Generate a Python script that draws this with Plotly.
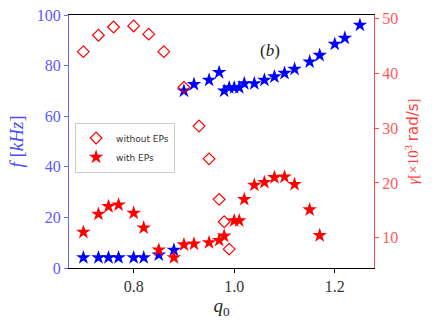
import plotly.graph_objects as go

# f [kHz] with EPs (blue stars, left axis)
q_f = [0.70, 0.73, 0.75, 0.77, 0.80, 0.82, 0.85, 0.88,
       0.90, 0.92, 0.95, 0.97, 0.98, 0.99, 1.00, 1.01, 1.02, 1.04,
       1.06, 1.08, 1.10, 1.12, 1.15, 1.17, 1.20, 1.22, 1.25]
f_eps = [4.1, 4.1, 4.1, 4.1, 4.1, 4.1, 5.2, 7.1,
         70.0, 72.6, 74.3, 77.3, 70.0, 71.3, 71.3, 71.3, 72.9, 72.9,
         74.3, 75.6, 77.0, 78.6, 81.5, 84.1, 88.5, 90.9, 96.0]

# gamma [x10^3 rad/s] with EPs (red stars, right axis)
q_g = [0.70, 0.73, 0.75, 0.77, 0.80, 0.82, 0.85, 0.88, 0.90, 0.92,
       0.95, 0.97, 0.98, 1.00, 1.01, 1.02, 1.04, 1.06, 1.08, 1.10,
       1.12, 1.15, 1.17]
g_eps = [11.0, 14.3, 15.7, 16.0, 14.5, 11.8, 7.75, 6.35, 8.7, 8.85,
         9.1, 9.5, 10.3, 13.1, 13.1, 17.0, 19.6, 20.1, 21.0, 21.1,
         19.75, 15.1, 10.4]

# gamma without EPs (open diamonds, right axis)
q_noep = [0.70, 0.73, 0.76, 0.80, 0.83, 0.86, 0.90, 0.93, 0.95, 0.97, 0.98, 0.99]
g_noep = [44.0, 47.0, 48.5, 48.7, 47.2, 44.0, 37.5, 30.4, 24.4, 17.0, 12.9, 7.9]

blue = "#0000ff"
red = "#ff0000"
serif = "Liberation Serif, DejaVu Serif, serif"

fig = go.Figure()
fig.add_trace(go.Scatter(x=q_f, y=f_eps, mode="markers", showlegend=False,
                         marker=dict(symbol="star", size=11, color=blue)))
fig.add_trace(go.Scatter(x=q_noep, y=g_noep, mode="markers", name="without EPs", yaxis="y2",
                         marker=dict(symbol="diamond-open", size=9, color=red,
                                     line=dict(width=1.2, color=red))))
fig.add_trace(go.Scatter(x=q_g, y=g_eps, mode="markers", name="with EPs", yaxis="y2",
                         marker=dict(symbol="star", size=11, color=red)))

fig.update_layout(
    width=436, height=327,
    margin=dict(l=69, r=62, t=15, b=59),
    plot_bgcolor="white", paper_bgcolor="white",
    font=dict(family=serif, size=16),
    xaxis=dict(range=[0.6714, 1.278], tickvals=[0.8, 1.0, 1.2], ticktext=["0.8", "1.0", "1.2"],
               showline=True, linecolor="black", linewidth=1, mirror=True, automargin=False,
               ticks="outside", ticklen=4, tickcolor="black", showgrid=False, zeroline=False,
               tickfont=dict(family=serif, color="#333333", size=16),
               title=dict(text="<i>q</i><sub>0</sub>", font=dict(family=serif, size=19, color="#222222"), standoff=2)),
    yaxis=dict(range=[0, 100], tickvals=[0, 20, 40, 60, 80, 100], automargin=False,
               showline=True, linecolor="#6a6aff", linewidth=1,
               ticks="outside", ticklen=4, tickcolor="#6a6aff", showgrid=False, zeroline=False,
               tickfont=dict(family=serif, color="#5a5aff", size=16),
               title=dict(text="<i>f</i> [<i>kHz</i>]", font=dict(family=serif, size=19, color="#4a4aff"), standoff=8)),
    yaxis2=dict(range=[4.45, 50.7], tickvals=[10, 20, 30, 40, 50], overlaying="y", side="right",
                showline=True, linecolor="#ff4a4a", linewidth=1, automargin=False,
                ticks="outside", ticklen=4, tickcolor="#ff4a4a", showgrid=False, zeroline=False,
                tickfont=dict(family=serif, color="#ff5a5a", size=16),
                title=dict(text="<i>γ</i>[×10<sup>3</sup> <span style=\"font-family:'DejaVu Sans'\">rad/s</span>]",
                           font=dict(family=serif, size=15, color="#ff4040"), standoff=10)),
    legend=dict(x=0.02, y=0.575, xanchor="left", yanchor="top",
                bgcolor="white", bordercolor="#cccccc", borderwidth=1,
                font=dict(family="DejaVu Sans", size=9, color="#333333"),
                itemwidth=30, tracegroupgap=0),
    annotations=[dict(text="(<i>b</i>)", x=0.698, y=0.905, xref="paper", yref="paper",
                      showarrow=False, font=dict(family=serif, size=17, color="#222222"))],
)

# drop the browser's default 8px body margin so the figure fills the window
fig.write_html("out.html", config={"displayModeBar": False},
               post_script="document.body.style.margin='0';")
